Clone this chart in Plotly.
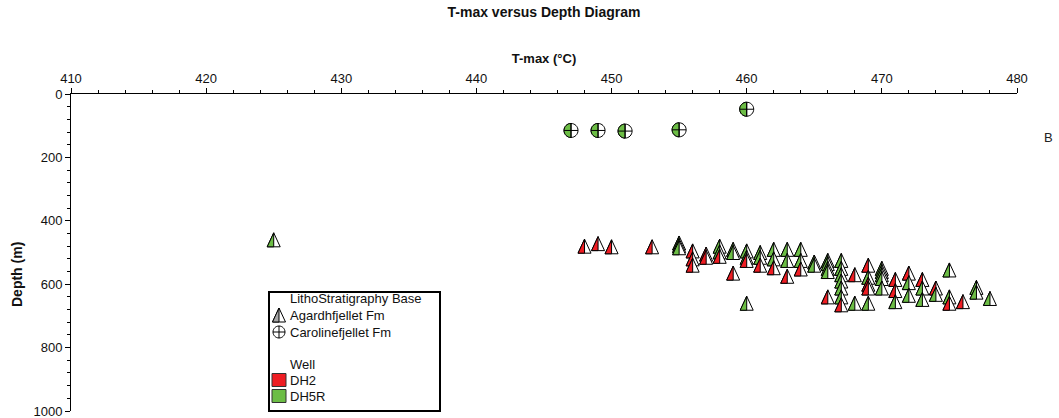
import plotly.graph_objects as go

# ---------------- data ----------------
# Agardhfjellet Fm samples (T-max in degC, depth in m, well)
agard_tmax = [425, 448, 449, 450, 453, 455, 455, 455, 456, 456, 456, 457, 457,
              458, 458, 458, 459, 459, 459, 460, 460, 460, 460, 461, 461, 461,
              462, 462, 462, 463, 463, 463, 464, 464, 464, 465, 465, 466, 466,
              466, 466, 466, 467, 467, 467, 467, 467, 467, 467, 468, 468, 469,
              469, 469, 469, 469, 470, 470, 470, 470, 470, 471, 471, 471, 472,
              472, 472, 473, 473, 473, 474, 474, 475, 475, 475, 476, 477, 477, 478]
agard_depth = [460, 480, 472, 482, 482, 470, 478, 485, 495, 520, 540, 505, 515,
               480, 498, 512, 490, 500, 565, 495, 515, 525, 660, 500, 515, 540,
               490, 520, 548, 490, 525, 575, 490, 525, 552, 530, 540, 525, 535,
               550, 560, 640, 525, 550, 570, 590, 612, 640, 665, 570, 660, 540,
               578, 600, 612, 660, 550, 560, 570, 582, 612, 585, 620, 655, 565,
               595, 635, 585, 612, 648, 612, 632, 555, 640, 660, 655, 610, 625, 645]
agard_well = ["DH5R", "DH2", "DH2", "DH2", "DH2", "DH5R", "DH5R", "DH5R", "DH2", "DH2", "DH2", "DH2", "DH2",
              "DH5R", "DH5R", "DH2", "DH5R", "DH5R", "DH2", "DH5R", "DH5R", "DH2", "DH5R", "DH5R", "DH5R", "DH2",
              "DH5R", "DH5R", "DH2", "DH5R", "DH5R", "DH2", "DH5R", "DH5R", "DH2", "DH5R", "DH5R", "DH5R", "DH5R",
              "DH5R", "DH5R", "DH2", "DH5R", "DH5R", "DH5R", "DH5R", "DH5R", "DH5R", "DH2", "DH2", "DH5R", "DH2",
              "DH5R", "DH2", "DH2", "DH5R", "DH5R", "DH5R", "DH5R", "DH5R", "DH5R", "DH2", "DH2", "DH5R", "DH2",
              "DH5R", "DH5R", "DH2", "DH5R", "DH5R", "DH2", "DH5R", "DH5R", "DH5R", "DH2", "DH2", "DH5R", "DH5R", "DH5R"]

# Carolinefjellet Fm samples
carol_tmax = [447, 449, 451, 455, 460]
carol_depth = [115, 115, 117, 113, 48]
carol_well = ["DH5R", "DH5R", "DH5R", "DH5R", "DH5R"]

x_ticks = [410, 420, 430, 440, 450, 460, 470, 480]
y_ticks = [0, 200, 400, 600, 800, 1000]

well_colors = {"DH2": "#EE1D23", "DH5R": "#6CBD45"}

# ---------------- layout geometry ----------------
W, H = 1059, 418
ML, MR, MT, MB = 71, 42, 94, 7
PW, PH = W - ML - MR, H - MT - MB


def px_x(px):
    return (px - ML) / PW


def px_y(py):
    return 1 - (py - MT) / PH


HW, HH = 6.5, 7.0
TRI_FULL = f"M {-HW},{-HH} L {HW},{-HH} L 0,{HH} Z"
TRI_LEFT = f"M {-HW},{-HH} L 0,{-HH} L 0,{HH} Z"
R = 7.0
K = 0.5523 * R
CIRC_FULL = (f"M {R},0 C {R},{K} {K},{R} 0,{R} C {-K},{R} {-R},{K} {-R},0 "
             f"C {-R},{-K} {-K},{-R} 0,{-R} C {K},{-R} {R},{-K} {R},0 Z")
CIRC_LEFT = f"M 0,{R} C {-K},{R} {-R},{K} {-R},0 C {-R},{-K} {-K},{-R} 0,{-R} Z"
CROSS = f"M 0,{R} L 0,{-R} M {-R},0 L {R},0"
r2 = 6.0
k2 = 0.5523 * r2
CIRC_SMALL = (f"M {r2},0 C {r2},{k2} {k2},{r2} 0,{r2} C {-k2},{r2} {-r2},{k2} {-r2},0 "
              f"C {-r2},{-k2} {-k2},{-r2} 0,{-r2} C {k2},{-r2} {r2},{-k2} {r2},0 Z")
CROSS_SMALL = f"M 0,{r2} L 0,{-r2} M {-r2},0 L {r2},0"

shapes = []


def pix_shape(path, xa, ya, fill, lw=1, xref="x", yref="y", color="black"):
    return dict(type="path", xref=xref, yref=yref, xsizemode="pixel", ysizemode="pixel",
                xanchor=xa, yanchor=ya, path=path, fillcolor=fill,
                line=dict(color=color, width=lw), layer="above")


for t, d, w in zip(carol_tmax, carol_depth, carol_well):
    shapes.append(pix_shape(CIRC_FULL, t, d, "white"))
    shapes.append(pix_shape(CIRC_LEFT, t, d, well_colors[w]))
    shapes.append(pix_shape(CROSS, t, d, "rgba(0,0,0,0)"))

for t, d, w in zip(agard_tmax, agard_depth, agard_well):
    shapes.append(pix_shape(TRI_FULL, t, d, "white"))
    shapes.append(pix_shape(TRI_LEFT, t, d, well_colors[w]))

fig = go.Figure()

# data traces (hover targets; marks drawn as half-filled shapes anchored on the data)
for well in ["DH2", "DH5R"]:
    xs = [t for t, w in zip(agard_tmax, agard_well) if w == well]
    ys = [d for d, w in zip(agard_depth, agard_well) if w == well]
    fig.add_trace(go.Scatter(x=xs, y=ys, mode="markers", name=f"{well} Agardhfjellet Fm",
                             marker=dict(size=14, opacity=0), showlegend=False))
fig.add_trace(go.Scatter(x=carol_tmax, y=carol_depth, mode="markers", name="Carolinefjellet Fm",
                         marker=dict(size=14, opacity=0), showlegend=False))

# ---------------- legend (drawn manually) ----------------
shapes.append(dict(type="rect", xref="paper", yref="paper",
                   x0=px_x(269), x1=px_x(440), y0=px_y(292), y1=px_y(411),
                   line=dict(color="black", width=2), fillcolor="white", layer="above"))
shapes.append(pix_shape(TRI_FULL, px_x(279), px_y(315), "white", xref="paper", yref="paper"))
shapes.append(pix_shape(TRI_LEFT, px_x(279), px_y(315), "#A6A6A6", xref="paper", yref="paper"))
shapes.append(pix_shape(CIRC_SMALL, px_x(279), px_y(332), "white", xref="paper", yref="paper"))
shapes.append(pix_shape(CROSS_SMALL, px_x(279), px_y(332), "rgba(0,0,0,0)", xref="paper", yref="paper"))
SQ = "M -7,-6.5 L 7,-6.5 L 7,6.5 L -7,6.5 Z"
shapes.append(pix_shape(SQ, px_x(279), px_y(380), well_colors["DH2"], xref="paper", yref="paper", color="#333333"))
shapes.append(pix_shape(SQ, px_x(279), px_y(396), well_colors["DH5R"], xref="paper", yref="paper", color="#333333"))

legend_items = [("LithoStratigraphy Base", 298), ("Agardhfjellet Fm", 315),
                ("Carolinefjellet Fm", 332), ("Well", 364), ("DH2", 380), ("DH5R", 396)]
annotations = []
for txt, yy in legend_items:
    annotations.append(dict(text=txt, xref="paper", yref="paper", x=px_x(288), y=px_y(yy),
                            xanchor="left", yanchor="middle", showarrow=False,
                            font=dict(family="Arial, Liberation Sans", size=13, color="#111111")))

annotations.append(dict(text="<b>Depth (m)</b>", xref="paper", yref="paper",
                        x=px_x(17), y=px_y(275), textangle=-90, showarrow=False,
                        xanchor="center", yanchor="middle",
                        font=dict(family="Arial, Liberation Sans", size=14, color="#111111")))
annotations.append(dict(text="B", xref="paper", yref="paper", x=px_x(1048), y=px_y(137),
                        showarrow=False, xanchor="center", yanchor="middle",
                        font=dict(family="Arial, Liberation Sans", size=13, color="#222222")))

fig.update_layout(
    width=W, height=H,
    margin=dict(l=ML, r=MR, t=MT, b=MB, autoexpand=False),
    paper_bgcolor="white", plot_bgcolor="white",
    showlegend=False,
    title=dict(text="<b>T-max versus Depth Diagram</b>", x=0.5, xref="paper",
               y=1 - 12 / H, yanchor="middle", yref="container",
               font=dict(family="Arial, Liberation Sans", size=14, color="#111111")),
    font=dict(family="Arial, Liberation Sans", size=13, color="#111111"),
    xaxis=dict(side="top", range=[410, 480], tickvals=x_ticks, showgrid=False, zeroline=False,
               showline=True, linecolor="black", linewidth=1, automargin=False,
               ticks="outside", ticklen=5, tickcolor="black", ticklabeloverflow="allow",
               minor=dict(dtick=2, ticks="outside", ticklen=3, tickcolor="black"),
               title=dict(text="<b>T-max (°C)</b>", standoff=4,
                          font=dict(size=13))),
    yaxis=dict(range=[1000, 0], tickvals=y_ticks, showgrid=False, zeroline=False,
               showline=True, linecolor="black", linewidth=1, automargin=False,
               ticks="outside", ticklen=5, tickcolor="black", ticklabeloverflow="allow",
               minor=dict(dtick=40, ticks="outside", ticklen=3, tickcolor="black")),
    shapes=shapes,
    annotations=annotations,
)

fig.write_html("out.html")
